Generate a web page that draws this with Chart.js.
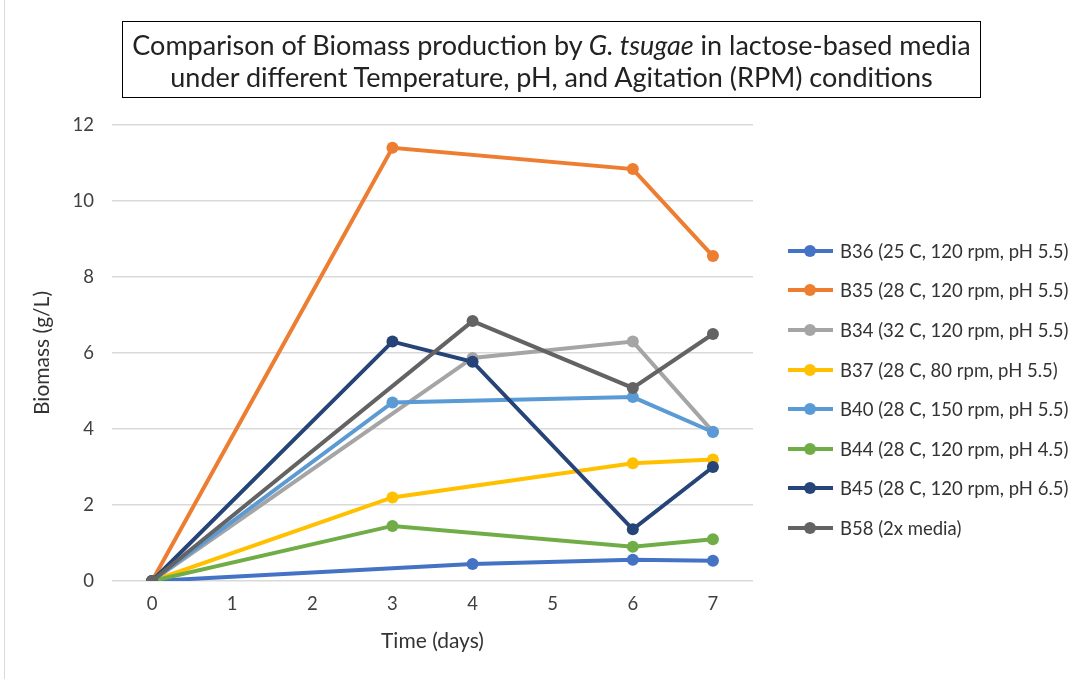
<!DOCTYPE html>
<html>
<head>
<meta charset="utf-8">
<script src="https://cdn.jsdelivr.net/npm/chart.js@4"></script>
<style>
  body { margin: 0; background: #fff; font-family: Lato, "Open Sans", sans-serif; }
  #wrap { position: relative; width: 1087px; height: 679px; overflow: hidden; }
  #edge { position: absolute; left: 4px; top: 0; width: 1px; height: 679px; background: #d9d9d9; }
  #title {
    position: absolute; left: 122px; top: 21px; width: 859px; height: 77px;
    border: 1.5px solid #000; text-align: center; font-size: 27px; line-height: 32px;
    color: #222; padding-top: 7px; box-sizing: border-box; white-space: nowrap;
  }
  #legend { position: absolute; left: 788px; top: 231px; }
  .item { height: 39.6px; display: flex; align-items: center; font-size: 18.5px; color: #333; white-space: nowrap; }
  .swatch { position: relative; width: 45px; height: 4px; margin-right: 7px; }
  .swatch span { position: absolute; left: 16px; top: -4px; width: 12px; height: 12px; border-radius: 50%; }
</style>
</head>
<body>
<div id="wrap">
  <canvas id="biomassChart" width="1087" height="679"></canvas>
  <div id="edge"></div>
  <div id="title">Comparison of Biomass production by <i>G. tsugae</i> in lactose-based media<br>under different Temperature, pH, and Agitation (RPM) conditions</div>
  <div id="legend"></div>
</div>
<script>
// time points (days) on the category axis
const days = ['0', '1', '2', '3', '4', '5', '6', '7'];

const seriesNames = [
  'B36 (25 C, 120 rpm, pH 5.5)',
  'B35 (28 C, 120 rpm, pH 5.5)',
  'B34 (32 C, 120 rpm, pH 5.5)',
  'B37 (28 C, 80 rpm, pH 5.5)',
  'B40 (28 C, 150 rpm, pH 5.5)',
  'B44 (28 C, 120 rpm, pH 4.5)',
  'B45 (28 C, 120 rpm, pH 6.5)',
  'B58 (2x media)'
];

// biomass g/L, null where that batch was not sampled
const b36 = [0, null, null, null, 0.45, null, 0.56, 0.53];
const b35 = [0, null, null, 11.4, null, null, 10.84, 8.55];
const b34 = [0, null, null, null, 5.87, null, 6.3, 3.93];
const b37 = [0, null, null, 2.2, null, null, 3.1, 3.2];
const b40 = [0, null, null, 4.7, null, null, 4.84, 3.92];
const b44 = [0, null, null, 1.45, null, null, 0.9, 1.1];
const b45 = [0, null, null, 6.3, 5.77, null, 1.36, 3.0];
const b58 = [0, null, null, null, 6.84, null, 5.08, 6.5];

const yTicks = [0, 2, 4, 6, 8, 10, 12];

const values = [b36, b35, b34, b37, b40, b44, b45, b58];
const colors = ['#4472C4', '#ED7D31', '#A5A5A5', '#FFC000', '#5B9BD5', '#70AD47', '#264478', '#636363'];

const datasets = values.map((v, i) => ({
  label: seriesNames[i],
  data: v,
  borderColor: colors[i],
  backgroundColor: colors[i],
  borderWidth: 4,
  pointRadius: 6,
  pointHoverRadius: 6,
  pointBorderWidth: 0,
  spanGaps: true,
  tension: 0,
  order: values.length - i   // later series painted on top, like Excel
}));

const font = 'Lato, "Open Sans", sans-serif';

new Chart(document.getElementById('biomassChart').getContext('2d'), {
  type: 'line',
  data: { labels: days, datasets: datasets },
  options: {
    responsive: false,
    animation: false,
    layout: { padding: { left: 30, top: 125, right: 334, bottom: 21 } },
    plugins: { legend: { display: false }, tooltip: { enabled: false } },
    scales: {
      x: {
        offset: true,
        grid: { display: false, drawTicks: false },
        border: { display: false },
        ticks: { color: '#404040', font: { family: font, size: 18.5 }, padding: 12 },
        title: { display: true, text: 'Time (days)', color: '#333', font: { family: font, size: 21 }, padding: { top: 4, bottom: 4 } },
        afterFit: s => { s.height = 77; }
      },
      y: {
        min: 0,
        max: 12,
        afterBuildTicks: s => { s.ticks = yTicks.map(v => ({ value: v })); },
        grid: { color: '#d9d9d9', lineWidth: 1.5, drawTicks: false },
        border: { display: false },
        ticks: { color: '#404040', font: { family: font, size: 18.5 }, padding: 18 },
        title: { display: true, text: 'Biomass (g/L)', color: '#333', font: { family: font, size: 21 }, padding: { top: 0, bottom: 0 } },
        afterFit: s => { s.width = 82; }
      }
    }
  }
});

// legend built from the same series
const legend = document.getElementById('legend');
seriesNames.forEach((name, i) => {
  const row = document.createElement('div');
  row.className = 'item';
  row.innerHTML = '<div class="swatch" style="background:' + colors[i] + '"><span style="background:' + colors[i] + '"></span></div>' + name;
  legend.appendChild(row);
});
</script>
</body>
</html>
